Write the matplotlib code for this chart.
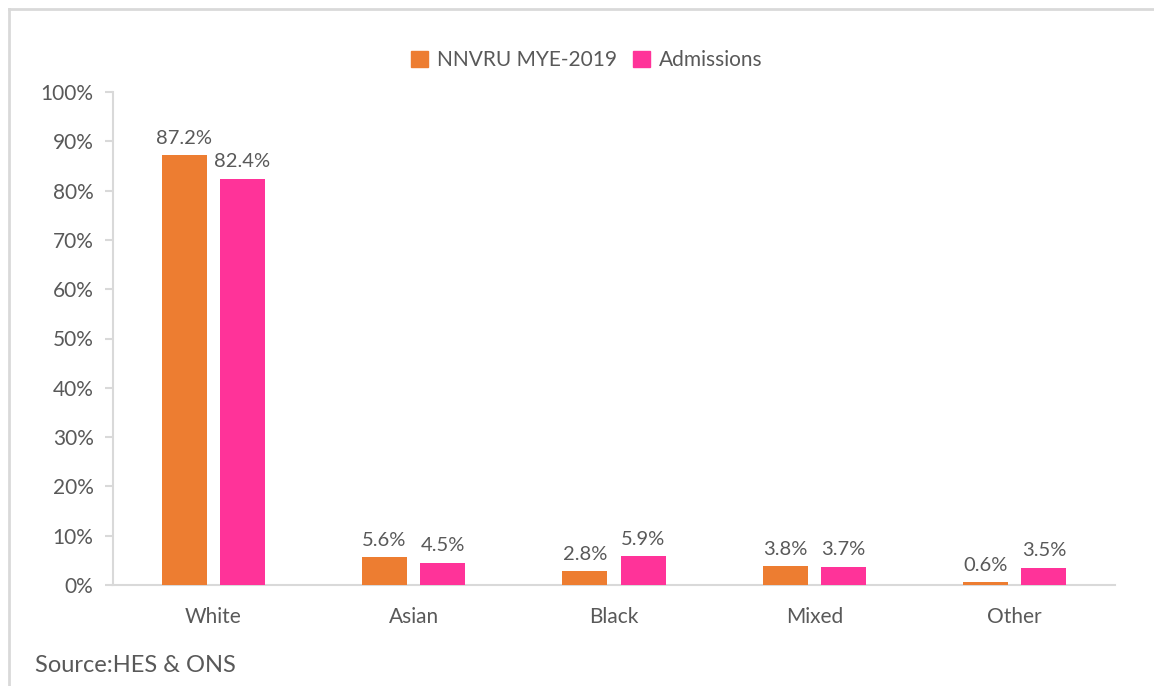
import matplotlib
matplotlib.use("Agg")
import matplotlib.pyplot as plt
import numpy as np
from matplotlib.patches import Rectangle
from matplotlib.lines import Line2D

categories = ["White", "Asian", "Black", "Mixed", "Other"]
series_names = ["NNVRU MYE-2019", "Admissions"]
nnvru = [87.2, 5.6, 2.8, 3.8, 0.6]
admissions = [82.4, 4.5, 5.9, 3.7, 3.5]
y_ticks = [0, 10, 20, 30, 40, 50, 60, 70, 80, 90, 100]
source_note = "Source:HES & ONS"

colors = ["#ED7D31", "#FF3399"]
text_color = "#595959"
grid_color = "#D9D9D9"

plt.rcParams["font.family"] = ["Lato", "DejaVu Sans"]

W, H = 1154, 686
fig = plt.figure(figsize=(W / 100, H / 100), dpi=100)
ax = fig.add_axes([113 / W, 1 - 585 / H, (1115 - 113) / W, (585 - 92) / H])

x = np.arange(len(categories))
width = 0.225
offset = 0.145
for vals, off, col, name in zip([nnvru, admissions], [-offset, offset], colors, series_names):
    bars = ax.bar(x + off, vals, width, color=col, label=name, zorder=3)
    for b, v in zip(bars, vals):
        ax.annotate(f"{v:.1f}%", (b.get_x() + b.get_width() / 2, v),
                    xytext=(0, 6), textcoords="offset points",
                    ha="center", va="bottom", fontsize=14.5, color=text_color)

ax.set_xlim(-0.5, len(categories) - 0.5)
ax.set_ylim(0, 100)
ax.set_yticks(y_ticks)
ax.set_yticklabels([f"{t}%" for t in y_ticks])
ax.set_xticks(x)
ax.set_xticklabels(categories)
ax.tick_params(axis="y", length=6, width=1.5, color=grid_color, labelsize=15,
               labelcolor=text_color, pad=8)
ax.tick_params(axis="x", length=0, labelsize=15, labelcolor=text_color, pad=16)
for s in ["top", "right"]:
    ax.spines[s].set_visible(False)
for s in ["left", "bottom"]:
    ax.spines[s].set_color(grid_color)
    ax.spines[s].set_linewidth(1.5)

handles = [Rectangle((0, 0), 1, 1, color=c) for c in colors]
fig.legend(handles, series_names, loc="center", bbox_to_anchor=(587 / W, 1 - 60 / H),
           ncol=2, frameon=False, fontsize=15, labelcolor=text_color,
           handlelength=0.8, handleheight=0.8, handletextpad=0.45, columnspacing=0.75)

fig.text(35 / W, 1 - 665 / H, source_note, fontsize=17, color=text_color,
         ha="left", va="center")

# outer frame (top and left edges visible)
fig.add_artist(Line2D([9 / W, 1.0], [1 - 9 / H, 1 - 9 / H], color=grid_color, lw=2))
fig.add_artist(Line2D([9 / W, 9 / W], [0.0, 1 - 9 / H], color=grid_color, lw=2))

fig.savefig("out.png", dpi=100, facecolor="white")
